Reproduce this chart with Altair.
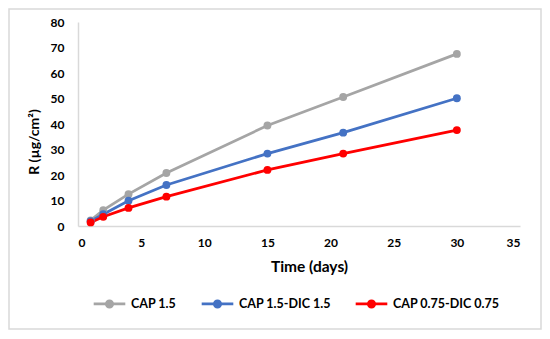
import altair as alt
import pandas as pd

days = [1, 2, 4, 7, 15, 21, 30]
cap15 = [2.2, 6.2, 12.5, 20.8, 39.4, 50.6, 67.5]
cap15_dic15 = [1.9, 4.6, 9.9, 16.1, 28.4, 36.6, 50.1]
cap075_dic075 = [1.4, 3.6, 7.1, 11.5, 22.0, 28.4, 37.6]

series_names = ["CAP 1.5", "CAP 1.5-DIC 1.5", "CAP 0.75-DIC 0.75"]
series_colors = ["#A5A5A5", "#4472C4", "#FF0000"]
x_ticks = [0, 5, 10, 15, 20, 25, 30, 35]
y_ticks = [0, 10, 20, 30, 40, 50, 60, 70, 80]
y_title = ["R (µg/cm²)"]

rows = []
for name, vals in zip(series_names, [cap15, cap15_dic15, cap075_dic075]):
    for d, v in zip(days, vals):
        rows.append({"day": d, "R": v, "series": name})
df = pd.DataFrame(rows)

FONT = "Lato"
sym_path = ("M-1,0H-0.2M0.2,0H1M-0.2,0A0.2,0.2,0,1,1,0.2,0"
            "A0.2,0.2,0,1,1,-0.2,0Z")

legend = alt.Legend(
    orient="none", legendX=14, legendY=264, direction="horizontal", title=None,
    symbolType=sym_path, symbolSize=1000, symbolStrokeWidth=2.75,
    labelFont=FONT, labelFontSize=12.5, labelFontWeight="bold", labelColor="#000000",
    columnPadding=19, labelOffset=4,
)
scale = alt.Scale(domain=series_names, range=series_colors)

x = alt.X("day:Q", scale=alt.Scale(domain=[0, 35], nice=False),
          axis=alt.Axis(values=x_ticks, title="Time (days)", grid=False, ticks=False,
                        labelPadding=11, domainColor="#D9D9D9", domainWidth=1.5,
                        titleFontSize=15.5, titleX=231, titleY=40,
                        titleBaseline="middle", titleAlign="center"))
y = alt.Y("R:Q", scale=alt.Scale(domain=[0, 80], nice=False),
          axis=alt.Axis(values=y_ticks, title=None, grid=False, ticks=False,
                        labelPadding=14, domainColor="#D9D9D9", domainWidth=1.5))

lines = alt.Chart(df).mark_line(strokeWidth=2.75).encode(
    x=x, y=y, stroke=alt.Stroke("series:N", scale=scale, legend=legend),
    detail="series:N",
)
points = alt.Chart(df).mark_point(filled=True, size=62, opacity=1, strokeWidth=0).encode(
    x=x, y=y, fill=alt.Fill("series:N", scale=scale, legend=legend),
)

ytitle = alt.Chart(pd.DataFrame({"t": y_title})).mark_text(
    angle=270, font=FONT, fontSize=14, fontWeight="bold", color="#000000",
    align="center", baseline="middle",
).encode(text="t:N", x=alt.value(-43), y=alt.value(120))

border = alt.Chart(alt.Data(values=[{}])).mark_rect(
    fill=None, stroke="#D9D9D9", strokeWidth=1.5
).encode(x=alt.value(-69), x2=alt.value(463), y=alt.value(-13), y2=alt.value(307))

chart = alt.layer(border, lines, points, ytitle).properties(
    width=442, height=204,
    autosize=alt.AutoSizeParams(type="none"),
    padding={"left": 70, "top": 14, "right": 22, "bottom": 105},
).configure_view(stroke=None).configure_axis(
    labelFont=FONT, labelFontSize=12, labelFontWeight="bold", labelColor="#000000",
    titleFont=FONT, titleFontWeight="bold", titleColor="#000000",
)

chart.save("out.html", embed_options={"renderer": "svg", "actions": False})
